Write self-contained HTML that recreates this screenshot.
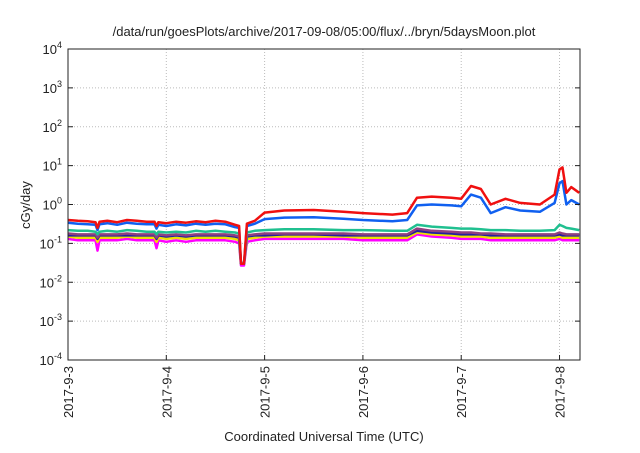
<!DOCTYPE html>
<html><head><meta charset="utf-8">
<style>
body{margin:0;background:#fff;}
svg text{font-family:"Liberation Sans",sans-serif;fill:#222;}
</style></head>
<body>
<svg id="chart" width="640" height="448" viewBox="0 0 640 448" xmlns="http://www.w3.org/2000/svg">
<text x="324" y="36" font-size="13" text-anchor="middle">/data/run/goesPlots/archive/2017-09-08/05:00/flux/../bryn/5daysMoon.plot</text>
<g id="grid"></g>
<g id="series"></g>
<rect x="68" y="49" width="512" height="311" fill="none" stroke="#222" stroke-width="1"/>
<g id="axes"></g>
<text x="0" y="0" font-size="13" text-anchor="middle" transform="translate(30,205) rotate(-90)">cGy/day</text>
<text x="324" y="441" font-size="13" text-anchor="middle">Coordinated Universal Time (UTC)</text>
</svg>
<script>
const xTickLabels = ["2017-9-3","2017-9-4","2017-9-5","2017-9-6","2017-9-7","2017-9-8"];
const xTickDays = [0,1,2,3,4,5];
const yTickExps = [-4,-3,-2,-1,0,1,2,3,4];
const T = [0,0.1,0.2,0.28,0.3,0.32,0.4,0.5,0.6,0.7,0.8,0.88,0.9,0.92,1.0,1.1,1.2,1.3,1.4,1.5,1.6,1.7,1.74,1.76,1.79,1.82,1.9,2.0,2.2,2.5,2.8,3.0,3.3,3.45,3.55,3.7,3.9,4.0,4.1,4.2,4.3,4.45,4.6,4.8,4.95,5.0,5.03,5.07,5.12,5.2];
const red =    [0.4,0.38,0.37,0.35,0.25,0.36,0.38,0.35,0.4,0.38,0.36,0.36,0.28,0.35,0.33,0.36,0.34,0.37,0.35,0.38,0.36,0.3,0.28,0.03,0.03,0.32,0.38,0.62,0.7,0.72,0.65,0.6,0.55,0.6,1.5,1.6,1.5,1.4,3.0,2.5,1.0,1.4,1.1,1.0,1.8,8,9,2,2.8,2.0];
const blue =   [0.34,0.32,0.31,0.3,0.22,0.31,0.33,0.3,0.34,0.32,0.31,0.31,0.24,0.3,0.28,0.31,0.29,0.32,0.3,0.32,0.31,0.26,0.25,0.03,0.03,0.28,0.32,0.42,0.46,0.47,0.43,0.4,0.37,0.4,0.95,1.0,0.95,0.9,1.8,1.5,0.6,0.85,0.7,0.65,1.1,3.5,4,1.0,1.3,1.0];
const green =  [0.22,0.21,0.21,0.2,0.17,0.2,0.21,0.2,0.22,0.21,0.2,0.2,0.17,0.2,0.19,0.2,0.19,0.21,0.2,0.21,0.2,0.19,0.18,0.03,0.03,0.19,0.21,0.22,0.23,0.23,0.22,0.22,0.21,0.21,0.3,0.27,0.25,0.24,0.24,0.23,0.22,0.22,0.21,0.21,0.22,0.3,0.28,0.25,0.24,0.22];
const purple = [0.18,0.17,0.17,0.17,0.14,0.17,0.17,0.17,0.18,0.17,0.17,0.17,0.14,0.17,0.16,0.17,0.16,0.17,0.17,0.17,0.17,0.16,0.15,0.03,0.03,0.16,0.17,0.18,0.18,0.18,0.18,0.17,0.17,0.17,0.24,0.21,0.2,0.19,0.19,0.18,0.18,0.17,0.17,0.17,0.17,0.19,0.18,0.17,0.17,0.17];
const navy =   [0.16,0.16,0.16,0.16,0.13,0.16,0.16,0.16,0.16,0.16,0.16,0.16,0.13,0.16,0.15,0.16,0.15,0.16,0.16,0.16,0.16,0.15,0.14,0.03,0.03,0.15,0.16,0.16,0.17,0.17,0.16,0.16,0.16,0.16,0.21,0.19,0.18,0.17,0.17,0.17,0.16,0.16,0.16,0.16,0.16,0.17,0.16,0.16,0.16,0.16];
const yellow = [0.15,0.14,0.14,0.14,0.11,0.14,0.14,0.14,0.15,0.14,0.14,0.14,0.11,0.14,0.13,0.14,0.13,0.14,0.14,0.14,0.14,0.13,0.12,0.03,0.03,0.13,0.14,0.15,0.15,0.15,0.15,0.14,0.14,0.14,0.19,0.17,0.16,0.15,0.15,0.15,0.14,0.14,0.14,0.14,0.14,0.15,0.14,0.14,0.14,0.14];
const magenta =[0.13,0.12,0.12,0.12,0.065,0.12,0.12,0.12,0.13,0.12,0.12,0.12,0.075,0.12,0.11,0.12,0.11,0.12,0.12,0.12,0.12,0.11,0.1,0.027,0.027,0.11,0.12,0.13,0.13,0.13,0.13,0.12,0.12,0.12,0.17,0.15,0.14,0.13,0.13,0.13,0.12,0.12,0.12,0.12,0.12,0.13,0.12,0.12,0.12,0.12];
const seriesList = [["magenta-series",magenta,"#ff00ff"],["yellow-series",yellow,"#f0e000"],["navy-series",navy,"#2020a0"],["purple-series",purple,"#904080"],["green-series",green,"#20c090"],["blue-series",blue,"#1060f0"],["red-series",red,"#f01010"]];
const L=68,R=580,TOP=49,BOT=360,DMAX=5.2083;
const xs=d=>L+(R-L)*d/DMAX;
const ys=v=>BOT-(Math.log10(v)+4)/8*(BOT-TOP);
const NS="http://www.w3.org/2000/svg";
const grid=document.getElementById('grid'),axes=document.getElementById('axes'),ser=document.getElementById('series');
function mk(tag,attrs,parent){const e=document.createElementNS(NS,tag);for(const k in attrs)e.setAttribute(k,attrs[k]);parent.appendChild(e);return e;}
yTickExps.forEach(ex=>{
  const y=ys(Math.pow(10,ex));
  if(ex>-4&&ex<4){const g=mk('line',{x1:L,x2:R,y1:y,y2:y,stroke:'#bbb','stroke-dasharray':'1,2'},grid);}
  const t=mk('line',{x1:L,x2:L+5,y1:y,y2:y,stroke:'#222'},axes);
  const t2=mk('line',{x1:R-5,x2:R,y1:y,y2:y,stroke:'#222'},axes);
  const tx=mk('text',{x:L-6,y:y+5,'font-size':'13','text-anchor':'end'},axes);
  
  
  tx.textContent='10';
  const sp=mk('tspan',{dy:'-6','font-size':'9'},tx);sp.textContent=String(ex);
});
xTickDays.forEach((d,i)=>{
  const x=xs(d);
  if(d>0){const g=mk('line',{x1:x,x2:x,y1:TOP,y2:BOT,stroke:'#bbb','stroke-dasharray':'1,2'},grid);}
  const t=mk('line',{x1:x,x2:x,y1:BOT-5,y2:BOT,stroke:'#222'},axes);
  const tx=mk('text',{x:0,y:0,'font-size':'13','text-anchor':'end',transform:`translate(${x+5},${BOT+6}) rotate(-90)`},axes);
  
  
  tx.textContent=xTickLabels[i];
});
seriesList.forEach(s=>{
  const pts=T.map((d,i)=>xs(d).toFixed(1)+','+ys(s[1][i]).toFixed(1)).join(' ');
  const p=mk('polyline',{points:pts,fill:'none',stroke:s[2],'stroke-width':'2.5','stroke-linejoin':'round'},ser);
  
  
});
</script>
</body></html>
